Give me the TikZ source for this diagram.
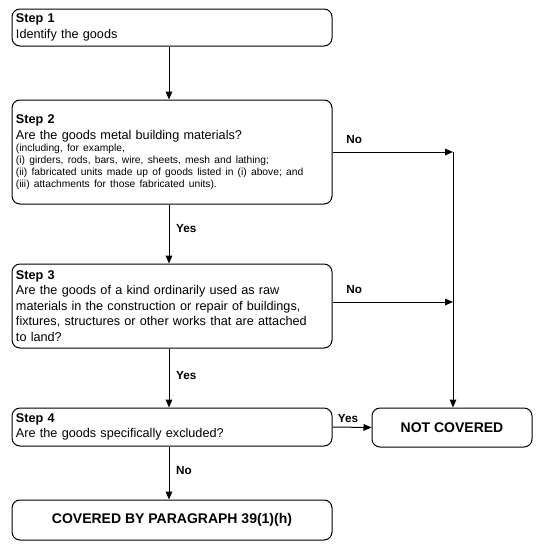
\documentclass[tikz,border=0pt]{standalone}
\usepackage{fontspec}
\setmainfont{Liberation Sans}
\usetikzlibrary{arrows.meta}
\begin{document}
\begin{tikzpicture}[x=0.75pt,y=-0.75pt,
  box/.style={draw,line width=0.75pt,rounded corners=6pt,minimum width=240pt,inner xsep=3pt,inner ysep=1pt,text width=234pt,align=left,anchor=center,font=\fontsize{9.5}{11.6}\selectfont},
  endbox/.style={draw,line width=0.75pt,rounded corners=6pt,inner sep=0pt,anchor=center,font=\bfseries\fontsize{10.5}{12}\selectfont},
  arr/.style={line width=0.75pt,-{Triangle[length=6pt,width=5pt]}},
  lbl/.style={font=\bfseries\fontsize{8.8}{10}\selectfont,inner sep=0pt}]
\useasboundingbox (0,0) rectangle (538,550);
\newcommand{\smalltext}{\fontsize{7.7}{9}\selectfont}
\node[box,minimum height=27.75pt] (s1) at (172,27.5) {\textbf{Step 1}\\Identify the goods};
\node[box,minimum height=78pt] (s2) at (172,152) {\textbf{Step 2}\\Are the goods metal building materials?\par
{\smalltext (including, for example,\\(i) girders, rods, bars, wire, sheets, mesh and lathing;\\(ii) fabricated units made up of goods listed in (i) above; and\\(iii) attachments for those fabricated units).\par}};
\node[box,minimum height=63pt] (s3) at (172,306) {\textbf{Step 3}\\Are the goods of a kind ordinarily used as raw\\materials in the construction or repair of buildings,\\fixtures, structures or other works that are attached\\to land?};
\node[box,minimum height=28.5pt] (s4) at (172,427) {\textbf{Step 4}\\Are the goods specifically excluded?};
\node[endbox,minimum width=240pt,minimum height=30pt] (cv) at (172,520) {COVERED BY PARAGRAPH 39(1)(h)};
\node[endbox,minimum width=120pt,minimum height=29.25pt] (nc) at (452,427.5) {NOT COVERED};
\coordinate (ax) at (169,0);
\coordinate (j1) at (453,152);
\coordinate (j2) at (453,302);
\draw[arr] (s1.south -| ax) -- (s2.north -| ax);
\draw[arr] (s2.south -| ax) -- node[lbl,right=5pt,pos=0.4]{Yes} (s3.north -| ax);
\draw[arr] (s3.south -| ax) -- node[lbl,right=5pt,pos=0.45]{Yes} (s4.north -| ax);
\draw[arr] (s4.south -| ax) -- node[lbl,right=5pt,pos=0.45]{No} (cv.north -| ax);
\draw[arr] (s2.east |- j1) -- node[lbl,above=6pt,pos=0.18]{No} (j1);
\draw[arr] (s3.east |- j2) -- node[lbl,above=6pt,pos=0.18]{No} (j2);
\draw[arr] (j1) -- (nc.north -| j1);
\draw[arr] (s4.east) -- node[lbl,above=3pt,pos=0.4]{Yes} (nc.west);
\end{tikzpicture}
\end{document}
